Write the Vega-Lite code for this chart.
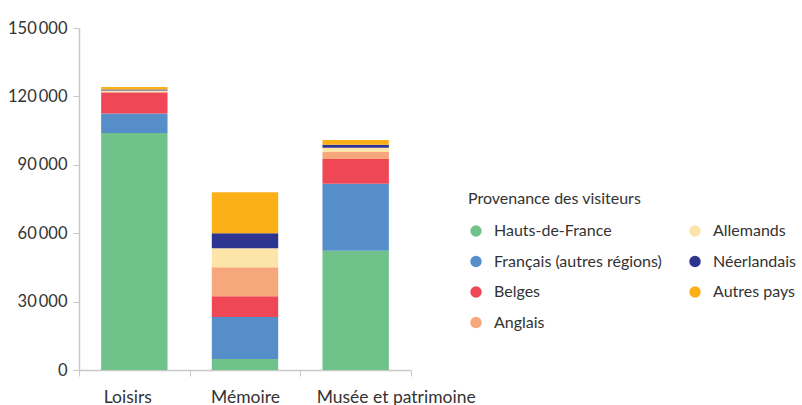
{
  "$schema": "https://vega.github.io/schema/vega-lite/v6.json",
  "autosize": "none",
  "padding": {"left": 79, "top": 28, "right": 391, "bottom": 35},
  "width": 332,
  "height": 342,
  "background": "white",
  "config": {
    "view": {"stroke": null},
    "font": "Lato",
    "axis": {"labelFont": "Lato", "labelColor": "#333333", "grid": false}
  },
  "data": {
    "values": [
      {"type": "Loisirs", "prov": "Hauts-de-France", "k": 1, "v": 104000},
      {"type": "Loisirs", "prov": "Français (autres régions)", "k": 2, "v": 8500},
      {"type": "Loisirs", "prov": "Belges", "k": 3, "v": 9200},
      {"type": "Loisirs", "prov": "Anglais", "k": 4, "v": 500},
      {"type": "Loisirs", "prov": "Allemands", "k": 5, "v": 400},
      {"type": "Loisirs", "prov": "Néerlandais", "k": 6, "v": 400},
      {"type": "Loisirs", "prov": "Autres pays", "k": 7, "v": 1100},
      {"type": "Mémoire", "prov": "Hauts-de-France", "k": 1, "v": 4800},
      {"type": "Mémoire", "prov": "Français (autres régions)", "k": 2, "v": 18400},
      {"type": "Mémoire", "prov": "Belges", "k": 3, "v": 9200},
      {"type": "Mémoire", "prov": "Anglais", "k": 4, "v": 12700},
      {"type": "Mémoire", "prov": "Allemands", "k": 5, "v": 8300},
      {"type": "Mémoire", "prov": "Néerlandais", "k": 6, "v": 6600},
      {"type": "Mémoire", "prov": "Autres pays", "k": 7, "v": 18000},
      {"type": "Musée et patrimoine", "prov": "Hauts-de-France", "k": 1, "v": 52300},
      {"type": "Musée et patrimoine", "prov": "Français (autres régions)", "k": 2, "v": 29400},
      {"type": "Musée et patrimoine", "prov": "Belges", "k": 3, "v": 10800},
      {"type": "Musée et patrimoine", "prov": "Anglais", "k": 4, "v": 3100},
      {"type": "Musée et patrimoine", "prov": "Allemands", "k": 5, "v": 1900},
      {"type": "Musée et patrimoine", "prov": "Néerlandais", "k": 6, "v": 1300},
      {"type": "Musée et patrimoine", "prov": "Autres pays", "k": 7, "v": 2100}
    ]
  },
  "mark": {"type": "bar", "width": {"band": 0.6}},
  "encoding": {
    "x": {
      "field": "type", "type": "nominal", "sort": null,
      "scale": {"paddingInner": 0, "paddingOuter": 0},
      "axis": {
        "title": null, "labelAngle": 0, "labelPadding": 12, "labelFontSize": 17.5,
        "labelOverlap": false, "labelBound": false, "labelFlush": false,
        "domainColor": "#c8c8c8", "domainWidth": 1.5,
        "tickColor": "#c8c8c8", "tickSize": 6, "tickBand": "extent",
        "labelOffset": {"condition": [
          {"test": "datum.value === 'Loisirs'", "value": -7},
          {"test": "datum.value === 'Musée et patrimoine'", "value": 40}
        ], "value": 0}
      }
    },
    "y": {
      "field": "v", "type": "quantitative", "aggregate": "sum", "stack": "zero",
      "scale": {"domain": [0, 150000], "nice": false},
      "axis": {
        "values": [0, 30000, 60000, 90000, 120000, 150000],
        "labelExpr": "replace(format(datum.value, ','), ',', '\u2009')",
        "labelFontSize": 16.5,
        "domainColor": "#c8c8c8", "domainWidth": 1.5,
        "tickColor": "#c8c8c8", "tickSize": 6, "labelPadding": 6,
        "title": "Nombre de visiteurs", "titleAngle": 0, "titleAlign": "left",
        "titleX": -65, "titleY": -29, "titleBaseline": "alphabetic",
        "titleFont": "Lato", "titleFontSize": 16, "titleFontWeight": "normal", "titleColor": "#333333"
      }
    },
    "order": {"field": "k", "type": "quantitative"},
    "color": {
      "field": "prov", "type": "nominal",
      "scale": {
        "domain": ["Hauts-de-France", "Français (autres régions)", "Belges", "Anglais", "Allemands", "Néerlandais", "Autres pays"],
        "range": ["#6fc38a", "#568ec9", "#ef4756", "#f6a77b", "#fde4a8", "#2e3591", "#fbb018"]
      },
      "legend": {
        "title": "Provenance des visiteurs",
        "orient": "none", "legendX": 389, "legendY": 163,
        "columns": 2, "columnPadding": 25, "rowPadding": 14.5,
        "symbolType": "circle", "symbolSize": 130, "symbolStrokeWidth": 0,
        "labelFont": "Lato", "labelFontSize": 16, "labelColor": "#333333", "labelOffset": 10, "labelLimit": 400,
        "titleFont": "Lato", "titleFontSize": 16, "titleFontWeight": "normal", "titleColor": "#333333",
        "titlePadding": 16, "titleLimit": 400
      }
    }
  }
}
